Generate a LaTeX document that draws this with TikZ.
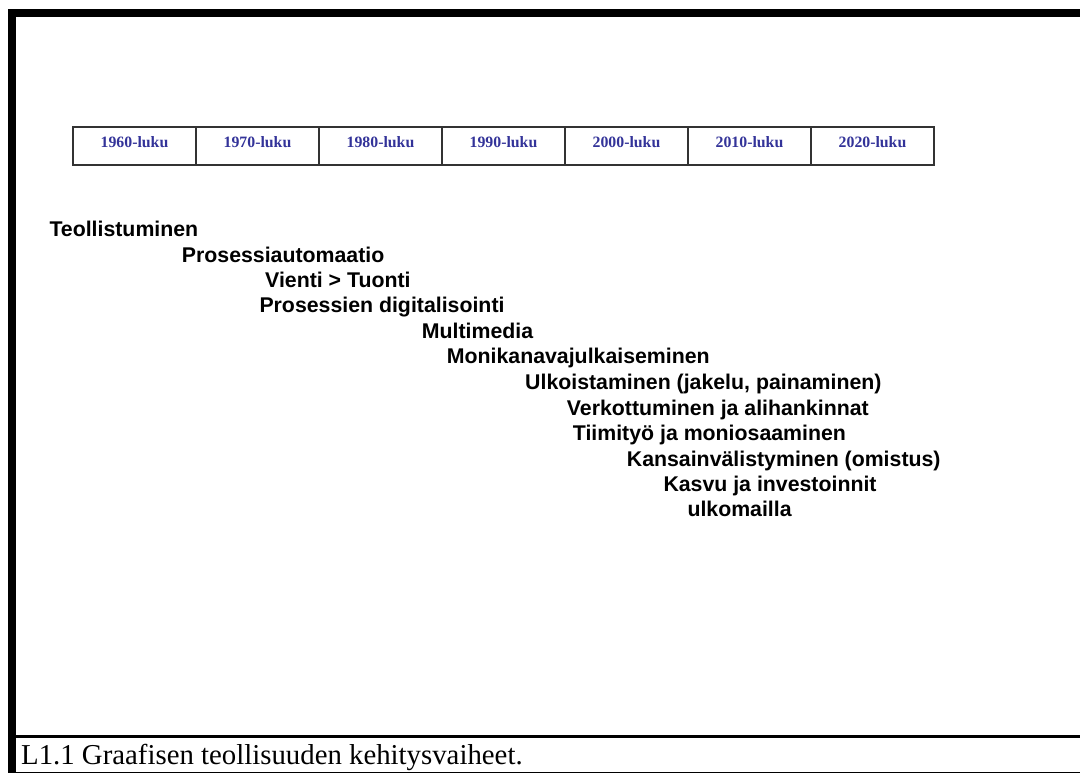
\documentclass[tikz,border=0pt]{standalone}
\usepackage{fontspec}
\usetikzlibrary{calc}
\setmainfont{Liberation Serif}
\newfontfamily\armsans{Liberation Sans}
\definecolor{decadeblue}{HTML}{333399}
\definecolor{cellline}{HTML}{333333}
\begin{document}
\begin{tikzpicture}[x=1pt,y=-1pt,
  decadecell/.style={draw=cellline,line width=1.6pt,minimum width=123pt,minimum height=38pt,inner sep=0pt},
  decadetext/.style={anchor=base,inner sep=0pt,text=decadeblue,font=\fontsize{15.8}{19}\selectfont\bfseries},
  phase/.style={anchor=base west,inner sep=0pt,font=\armsans\fontsize{21.3}{25}\selectfont\bfseries},
  captiontext/.style={anchor=base west,inner sep=0pt,font=\fontsize{28.8}{32}\selectfont}]
\useasboundingbox (0,0) rectangle (1080,773);
\fill[white] (0,0) rectangle (1080,773);

% frame: heavy rule on top and left, caption rules at the bottom
\fill[black] (8,9) rectangle (1080,17);
\fill[black] (8,9) rectangle (16,773);
\draw[line width=2.6pt] (16,736.5) -- (1080,736.5);
\draw[line width=1pt] (16,772.3) -- (1080,772.3);

% decade row
\foreach \i/\lab in {1/1960,2/1970,3/1980,4/1990,5/2000,6/2010,7/2020}{
  \node[decadecell] (d\i) at ({73+123*(\i-0.5)},146) {};
  \node[decadetext] (l\i) at ($(d\i.center)+(0,1.7)$) {\lab-luku};
}

% development phases
\node[phase] (p1)  at (49.3,236.7) {Teollistuminen};
\node[phase] (p2)  at (181.7,262.3) {Prosessiautomaatio};
\node[phase] (p3)  at (265,287.6) {Vienti > Tuonti};
\node[phase] (p4)  at (259.3,312.9) {Prosessien digitalisointi};
\node[phase] (p5)  at (421.7,338.3) {Multimedia};
\node[phase] (p6)  at (446.7,363.5) {Monikanavajulkaiseminen};
\node[phase] (p7)  at (525,389.3) {Ulkoistaminen (jakelu, painaminen)};
\node[phase] (p8)  at (566.7,415) {Verkottuminen ja alihankinnat};
\node[phase] (p9)  at (572.7,440.7) {Tiimityö ja moniosaaminen};
\node[phase] (p10) at (626.7,466.2) {Kansainvälistyminen (omistus)};
\node[phase] (p11) at (663.3,491.7) {Kasvu ja investoinnit};
\node[phase] (p12) at (687.3,516.9) {ulkomailla};

% caption
\node[captiontext] (cap) at (21,764) {L1.1 Graafisen teollisuuden kehitysvaiheet.};
\end{tikzpicture}
\end{document}
